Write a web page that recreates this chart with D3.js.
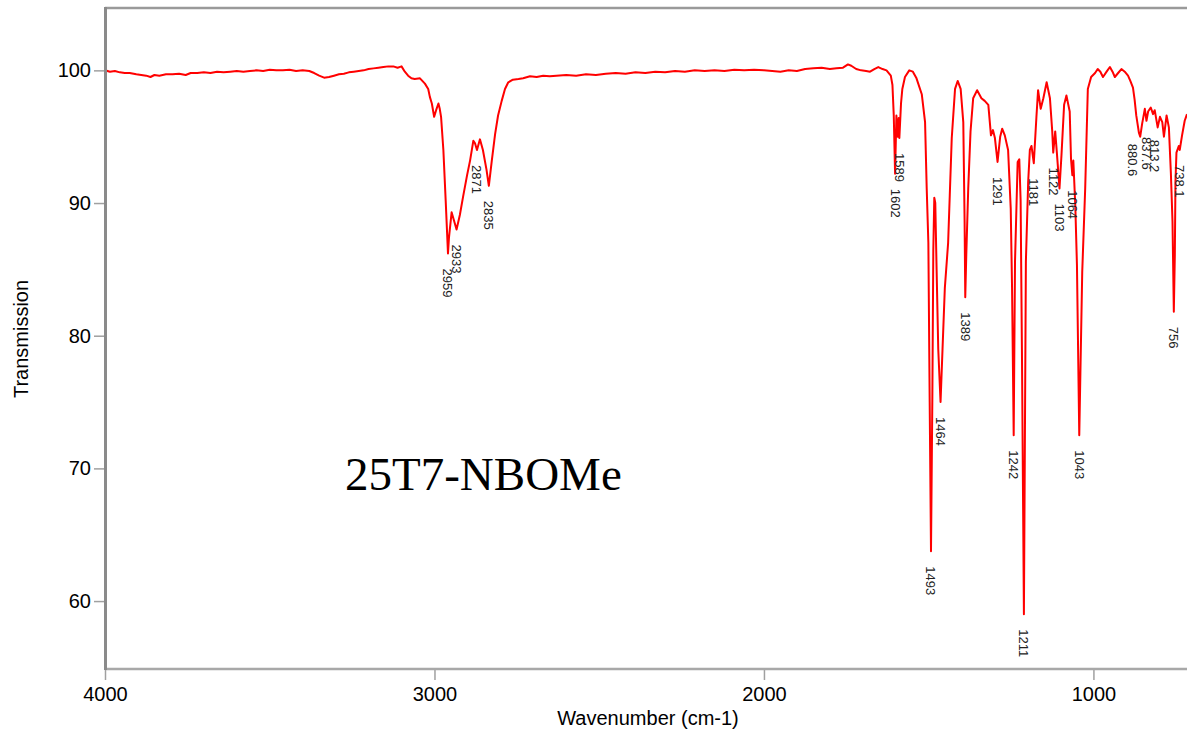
<!DOCTYPE html>
<html>
<head>
<meta charset="utf-8">
<script src="https://cdn.jsdelivr.net/npm/d3@7"></script>
<style>
  body { margin: 0; background: #fff; }
  svg { display: block; }
</style>
</head>
<body>
<svg id="chart" width="1187" height="737"></svg>
<script>
// IR spectrum of 25T7-NBOMe: wavenumber (cm-1) vs. transmission (%)
const wavenumber = [
  4000, 3985, 3970, 3955, 3940, 3925, 3905, 3890, 3875, 3862, 3850, 3835, 3815, 3795, 3775, 3755, 3740, 3720, 3700, 3680,
  3660, 3640, 3620, 3600, 3580, 3560, 3540, 3520, 3500, 3480, 3460, 3440, 3420, 3400, 3380, 3365, 3350, 3335, 3320, 3305,
  3290, 3275, 3260, 3245, 3230, 3215, 3200, 3185, 3170, 3155, 3140, 3125, 3112, 3100, 3090, 3080, 3070, 3060, 3044, 3029,
  3019, 3014, 3008, 3001, 2995, 2988, 2984, 2980, 2973, 2966, 2959, 2956, 2948, 2941, 2933, 2923, 2913, 2901, 2892, 2882,
  2877, 2871, 2862, 2853, 2842, 2835, 2826, 2816, 2807, 2796, 2786, 2776, 2762, 2745, 2731, 2710, 2690, 2670, 2650, 2630,
  2600, 2570, 2540, 2510, 2480, 2450, 2420, 2390, 2360, 2330, 2300, 2270, 2240, 2210, 2180, 2150, 2120, 2090, 2060, 2030,
  2000, 1975, 1950, 1925, 1900, 1875, 1850, 1825, 1800, 1780, 1760, 1745, 1735, 1720, 1705, 1690, 1678, 1665, 1653, 1640,
  1628, 1615, 1610, 1606, 1602, 1598, 1594, 1591, 1589, 1584, 1580, 1572, 1559, 1548, 1537, 1521, 1511, 1506, 1501, 1497,
  1493, 1489, 1486, 1483, 1480, 1476, 1471, 1464, 1458, 1451, 1441, 1436, 1430, 1420, 1412, 1403, 1395, 1391, 1389, 1386,
  1380, 1373, 1365, 1353, 1340, 1330, 1319, 1311, 1305, 1299, 1291, 1283, 1277, 1269, 1259, 1251, 1247, 1242, 1238, 1230,
  1225, 1221, 1217, 1211, 1205, 1198, 1193, 1188, 1181, 1173, 1168, 1160, 1152, 1142, 1132, 1125, 1122, 1116, 1111, 1103,
  1097, 1089, 1082, 1072, 1068, 1064, 1061, 1055, 1050, 1043, 1034, 1025, 1017, 1007, 995, 987, 979, 971, 960, 950,
  942, 935, 925, 915, 905, 895, 888, 880, 875, 870, 862, 858, 852, 849, 844, 839, 834, 826, 819, 814,
  805, 798, 791, 786, 778, 771, 765, 760, 756, 753, 751, 748, 741, 738, 731, 723, 716
];
const transmission = [
  100.0, 99.9, 99.95, 99.85, 99.8, 99.8, 99.7, 99.65, 99.6, 99.5, 99.65, 99.6, 99.7, 99.7, 99.75, 99.65, 99.8, 99.8, 99.85, 99.8,
  99.9, 99.85, 99.9, 99.95, 99.9, 99.95, 100.0, 99.95, 100.05, 100.0, 100.0, 100.05, 99.95, 100.0, 99.95, 99.8, 99.6, 99.45, 99.5, 99.6,
  99.7, 99.75, 99.85, 99.9, 99.95, 100.0, 100.1, 100.15, 100.2, 100.25, 100.3, 100.3, 100.2, 100.3, 99.9, 99.6, 99.4, 99.35, 99.4, 99.0,
  98.6, 98.0, 97.5, 96.5, 97.0, 97.5, 97.1, 96.5, 94.0, 90.2, 86.2, 87.4, 89.3, 88.7, 88.0, 89.1, 90.5, 92.1, 93.2, 94.7,
  94.5, 94.0, 94.8, 94.0, 92.5, 91.3, 93.2, 95.2, 96.6, 97.7, 98.6, 99.1, 99.3, 99.35, 99.4, 99.55, 99.5, 99.6, 99.55, 99.6,
  99.65, 99.6, 99.7, 99.65, 99.75, 99.8, 99.75, 99.85, 99.8, 99.9, 99.85, 99.95, 99.9, 100.0, 99.95, 100.0, 99.95, 100.05, 100.0, 100.05,
  100.0, 99.95, 99.9, 100.0, 99.95, 100.1, 100.15, 100.2, 100.1, 100.15, 100.2, 100.45, 100.35, 100.1, 100.0, 99.95, 99.9, 100.1, 100.25, 100.1,
  100.0, 99.6, 98.9, 96.6, 92.2, 96.6, 95.0, 96.4, 94.9, 97.5, 98.6, 99.5, 100.0, 99.9, 99.4, 98.2, 96.1, 91.1, 87.0, 75.0,
  63.75, 75.0, 86.4, 90.4, 90.0, 85.0, 79.0, 75.0, 79.0, 83.6, 87.0, 90.6, 94.9, 98.6, 99.2, 98.6, 96.1, 88.6, 82.9, 86.0,
  91.1, 95.4, 97.9, 98.5, 97.9, 97.7, 97.4, 95.1, 95.5, 94.9, 93.1, 95.0, 95.6, 95.1, 94.0, 89.6, 83.6, 72.5, 85.6, 93.1,
  93.3, 90.2, 78.9, 59.0, 85.6, 91.6, 94.0, 94.3, 93.0, 96.5, 98.5, 97.1, 97.9, 99.1, 97.9, 95.4, 93.8, 95.4, 93.8, 91.1,
  93.6, 97.4, 98.1, 96.9, 93.3, 92.1, 93.2, 89.8, 85.3, 72.5, 84.8, 91.1, 98.6, 99.5, 99.8, 100.1, 99.9, 99.5, 99.9, 100.25,
  99.9, 99.5, 99.8, 100.1, 99.9, 99.6, 99.2, 98.7, 97.8, 96.6, 95.3, 95.0, 96.0, 96.4, 97.1, 96.2, 96.9, 97.2, 96.7, 97.0,
  95.7, 96.5, 96.1, 95.0, 96.6, 95.7, 92.3, 88.6, 81.8, 86.0, 91.6, 93.8, 94.3, 94.0, 95.1, 96.2, 96.7
];

// Annotated absorption bands
const peakWavenumber = [2959, 2933, 2871, 2835, 1602, 1589, 1493, 1464, 1389, 1291, 1242, 1211, 1181, 1122, 1103, 1064, 1043, 880.6, 837.6, 813.2, 756, 738.1];
const peakText = ["2959", "2933", "2871", "2835", "1602", "1589", "1493", "1464", "1389", "1291", "1242", "1211", "1181", "1122", "1103", "1064", "1043", "880.6", "837.6", "813.2", "756", "738.1"];
const peakTransmission = [86.2, 88.0, 94.0, 91.3, 92.2, 94.9, 63.75, 75.0, 82.9, 93.1, 72.5, 59.0, 93.0, 93.8, 91.1, 92.1, 72.5, 95.6, 96.1, 95.9, 81.8, 94.0];

const xTicks = [4000, 3000, 2000, 1000];
const yTicks = [60, 70, 80, 90, 100];
const sampleName = "25T7-NBOMe";

const svg = d3.select("#chart");
const plotLeft = 105, plotRight = 1187, plotTop = 8, plotBottom = 669;

const x = d3.scaleLinear().domain([4000, 716]).range([plotLeft, plotRight]);
const y = d3.scaleLinear().domain([54.88, 104.7]).range([plotBottom, plotTop]);

const sans = "'Liberation Sans', Arial, sans-serif";

// Y axis
const yAxis = svg.append("g")
  .attr("transform", `translate(${plotLeft},0)`)
  .call(d3.axisLeft(y).tickValues(yTicks).tickSize(11).tickPadding(3).tickFormat(d3.format("d")));
yAxis.select(".domain").remove();
yAxis.selectAll(".tick line").attr("stroke", "#a0a0a0").attr("stroke-width", 1.5);
yAxis.selectAll(".tick text").attr("font-family", sans).attr("font-size", 20).attr("fill", "#000");

// X axis
const xAxis = svg.append("g")
  .attr("transform", `translate(0,${plotBottom})`)
  .call(d3.axisBottom(x).tickValues(xTicks).tickSize(11).tickPadding(7).tickFormat(d3.format("d")));
xAxis.select(".domain").remove();
xAxis.selectAll(".tick line").attr("stroke", "#a0a0a0").attr("stroke-width", 1.5);
xAxis.selectAll(".tick text").attr("font-family", sans).attr("font-size", 20).attr("fill", "#000");

// Plot frame
svg.append("line").attr("x1", plotLeft).attr("x2", plotRight).attr("y1", plotTop).attr("y2", plotTop)
  .attr("stroke", "#9a9a9a").attr("stroke-width", 2.5);
svg.append("line").attr("x1", plotLeft).attr("x2", plotRight).attr("y1", plotBottom).attr("y2", plotBottom)
  .attr("stroke", "#a8a8a8").attr("stroke-width", 2.5);
svg.append("line").attr("x1", plotLeft + 0.5).attr("x2", plotLeft + 0.5).attr("y1", plotTop - 1).attr("y2", plotBottom + 1)
  .attr("stroke", "#8a8a8a").attr("stroke-width", 3);

// Spectrum trace
svg.append("clipPath").attr("id", "plot-clip")
  .append("rect").attr("x", plotLeft + 2).attr("y", plotTop + 1)
  .attr("width", plotRight - plotLeft).attr("height", plotBottom - plotTop - 2);

const spectrum = wavenumber.map((w, i) => [w, transmission[i]]);
svg.append("path")
  .datum(spectrum)
  .attr("clip-path", "url(#plot-clip)")
  .attr("fill", "none")
  .attr("stroke", "#ff0000")
  .attr("stroke-width", 2)
  .attr("stroke-linejoin", "round")
  .attr("d", d3.line().x(d => x(d[0])).y(d => y(d[1])));

// Peak annotations, written downward beneath each band
svg.append("g").selectAll("text")
  .data(peakWavenumber)
  .join("text")
  .attr("transform", (w, i) => `translate(${x(w)},${y(peakTransmission[i]) + 15}) rotate(90)`)
  .attr("text-anchor", "start")
  .attr("dominant-baseline", "central")
  .attr("font-family", sans)
  .attr("font-size", 13)
  .attr("fill", "#222")
  .text((w, i) => peakText[i]);

// Axis titles
svg.append("text")
  .attr("transform", "translate(28,339) rotate(-90)")
  .attr("text-anchor", "middle")
  .attr("font-family", sans).attr("font-size", 20).attr("fill", "#000")
  .text("Transmission");
svg.append("text")
  .attr("x", 648).attr("y", 725)
  .attr("text-anchor", "middle")
  .attr("font-family", sans).attr("font-size", 20).attr("fill", "#000")
  .text("Wavenumber (cm-1)");

// Sample name
svg.append("text")
  .attr("x", 345).attr("y", 490)
  .attr("font-family", "'Liberation Serif', 'Times New Roman', serif")
  .attr("font-size", 47)
  .attr("fill", "#000")
  .text(sampleName);
</script>
</body>
</html>
